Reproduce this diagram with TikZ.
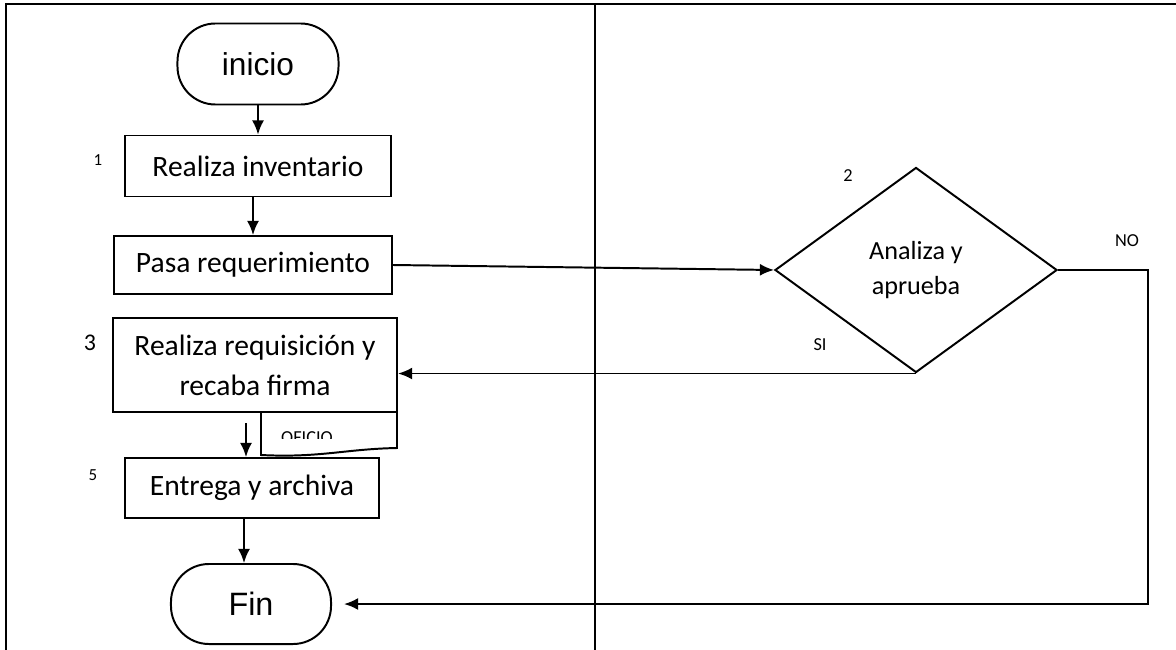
\documentclass[tikz,border=0pt]{standalone}
\usepackage{fontspec}
\setmainfont{Carlito}
\newfontfamily\arialfont{Liberation Sans}
\usetikzlibrary{shapes.geometric,arrows.meta}

\begin{document}
\begin{tikzpicture}[x=0.025cm, y=-0.025cm, line width=1.4pt, >={Latex[length=10pt,width=8.5pt]},%
        box/.style={draw, line width=1.4pt, inner sep=0pt, align=center, font=\fontsize{21}{28.4}\selectfont},
        term/.style={draw, line width=1.4pt, inner sep=0pt, rounded corners=0.95cm, font=\arialfont\fontsize{22.5}{26}\selectfont},
        decision/.style={draw, diamond, line width=1.4pt, inner sep=0pt, align=center, minimum width=7.05cm, minimum height=5.125cm, font=\fontsize{18.6}{25}\selectfont},
        tag/.style={inner sep=0pt, font=\fontsize{13}{15}\selectfont},
        arrow/.style={->, line width=1.4pt}]
        \useasboundingbox (0,0) rectangle (1176,650);
        \draw[line width=1.9pt] (6,650) -- (6,4) -- (1176,4);
        \draw (595,4) -- (595,650);

        \node[term, minimum width=4.025cm, minimum height=2.025cm] (inicio) at (258,64) {inicio};
        \node[box, minimum width=6.625cm, minimum height=1.525cm] (inv) at (258,166) {Realiza inventario};
        \node[box, minimum width=6.95cm, minimum height=1.45cm] (pasa) at (253,265) {Pasa requerimiento};
        \node[decision] (dec) at (916,270) {Analiza y\\aprueba};
        \node[box, minimum width=7.1cm, minimum height=2.35cm] (req) at (255,365) {Realiza requisición y\\recaba firma};
        \node[box, minimum width=6.35cm, minimum height=1.5cm] (entrega) at (252,488) {Entrega y archiva};
        \node[term, minimum width=4cm, minimum height=2cm, font=\arialfont\fontsize{23}{26}\selectfont] (fin) at (251,604) {Fin};

        \node[tag, font=\fontsize{12}{14}\selectfont] (n1) at (98,160) {1};
        \node[tag] (n2) at (848,176) {2};
        \node[tag, font=\fontsize{17}{19}\selectfont] (n3) at (90,343) {3};
        \node[tag, font=\fontsize{12}{14}\selectfont] (n5) at (93,475) {5};
        \node[tag] (lno) at (1127,241) {NO};
        \node[tag] (lsi) at (820,345) {SI};

        \draw (261,412) -- (397,412) -- (397,448) .. controls (345,449) and (320,458) .. (261,455) -- cycle;
        \begin{scope}
            \clip (261,412) rectangle (397,438);
            \node[tag, anchor=base] (oficio) at (307,443) {OFICIO};
        \end{scope}

        \draw[arrow] (inicio.south) -- (inv.north);
        \draw[arrow] (inv.south -| pasa.north) -- (pasa.north);
        \draw[arrow] (pasa.east) -- (dec.west);
        \draw[arrow] (dec.south) -- (dec.south -| req.east);
        \draw[arrow] (dec.east) -- ++(90,0) |- ([xshift=0.3cm]fin.east);
        \draw[arrow, shorten <=0.25cm] ([xshift=-0.225cm]req.south) -- ([xshift=-0.225cm]req.south |- entrega.north);
        \draw[arrow] ([xshift=-0.2cm]entrega.south) -- ([xshift=-0.2cm]entrega.south |- fin.north);
    \end{tikzpicture}
\end{document}
